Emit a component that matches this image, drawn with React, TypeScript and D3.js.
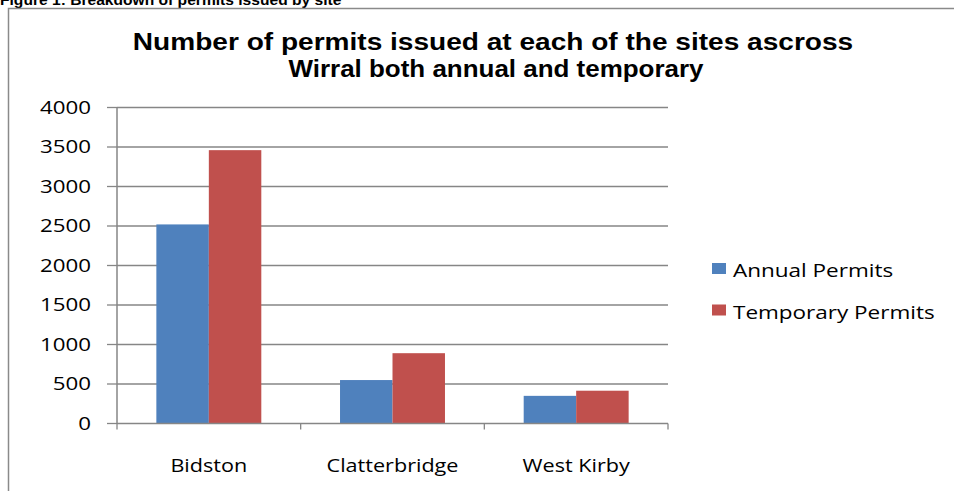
import React from 'react'
import * as d3 from 'd3'

const sites = ['Bidston', 'Clatterbridge', 'West Kirby']
const seriesNames = ['Annual Permits', 'Temporary Permits']
const annual = [2520, 550, 350]
const temporary = [3460, 890, 415]
const yTicks = [0, 500, 1000, 1500, 2000, 2500, 3000, 3500, 4000]
const colors = ['#4F81BD', '#C0504D']

const W = 954
const H = 491
const plot = { left: 117, right: 668, top: 107.5, bottom: 423.5 }

// text in the original is horizontally stretched
const SX = 1.2
const bodyFont = "'Open Sans', sans-serif"
const titleFont = "'Liberation Sans', Arial, sans-serif"

const StretchText = ({ x, y, anchor = 'start', size = 18, weight = 400, family = bodyFont, sx = SX, children }) => (
  <text
    transform={`translate(${x},${y}) scale(${sx},1)`}
    textAnchor={anchor}
    fontSize={size}
    fontWeight={weight}
    fontFamily={family}
    fill="#000"
  >
    {children}
  </text>
)

const App = () => {
  const values = [annual, temporary]
  const x0 = d3.scaleBand().domain(sites).range([plot.left, plot.right]).padding(0)
  const x1 = d3
    .scaleBand()
    .domain(seriesNames)
    .range([0, x0.bandwidth()])
    .paddingInner(0)
    .paddingOuter(0.75)
  const y = d3.scaleLinear().domain([0, 4000]).range([plot.bottom, plot.top])

  const catTicks = [...sites.map((s) => x0(s)), plot.right]

  return (
    <svg
      width={W}
      height={H}
      style={{ position: 'absolute', left: 0, top: 0, display: 'block', background: '#fff' }}
    >
      <StretchText x={0} y={5} size={15} weight={700} family={titleFont} sx={1.04}>
        Figure 1: Breakdown of permits issued by site
      </StretchText>
      <rect x={8.5} y={8.5} width={W + 20} height={H + 20} fill="#fff" stroke="#8a8a8a" strokeWidth={1.5} />

      <StretchText x={493} y={50} anchor="middle" size={23.5} weight={700} family={titleFont} sx={1.194}>
        Number of permits issued at each of the sites ascross
      </StretchText>
      <StretchText x={496} y={77} anchor="middle" size={23.5} weight={700} family={titleFont} sx={1.105}>
        Wirral both annual and temporary
      </StretchText>

      {/* gridlines */}
      {yTicks.map((t) => (
        <g key={t}>
          {t > 0 && (
            <line x1={plot.left} x2={plot.right} y1={y(t)} y2={y(t)} stroke="#868686" strokeWidth={1.3} />
          )}
          <line x1={plot.left - 10} x2={plot.left} y1={y(t)} y2={y(t)} stroke="#868686" strokeWidth={1.3} />
          <StretchText x={91} y={y(t) + 6} anchor="end" sx={1.24}>
            {t}
          </StretchText>
        </g>
      ))}

      {/* bars */}
      {seriesNames.map((s, si) =>
        sites.map((site, i) => (
          <rect
            key={s + site}
            x={x0(site) + x1(s)}
            width={x1.bandwidth()}
            y={y(values[si][i])}
            height={y(0) - y(values[si][i])}
            fill={colors[si]}
          />
        ))
      )}

      {/* axes */}
      <line x1={plot.left} x2={plot.left} y1={plot.top} y2={plot.bottom} stroke="#868686" strokeWidth={1.5} />
      <line x1={plot.left} x2={plot.right} y1={plot.bottom} y2={plot.bottom} stroke="#868686" strokeWidth={1.5} />
      {catTicks.map((t, i) => (
        <line key={i} x1={t} x2={t} y1={plot.bottom} y2={plot.bottom + 6} stroke="#868686" strokeWidth={1.3} />
      ))}
      {sites.map((s) => (
        <StretchText key={s} x={x0(s) + x0.bandwidth() / 2} y={472} anchor="middle">
          {s}
        </StretchText>
      ))}

      {/* legend */}
      {seriesNames.map((s, i) => (
        <g key={s}>
          <rect x={712} y={263 + i * 41.5} width={14} height={11} fill={colors[i]} />
          <StretchText x={733} y={277 + i * 41.5} sx={1.25}>
            {s}
          </StretchText>
        </g>
      ))}
    </svg>
  )
}

export default App
